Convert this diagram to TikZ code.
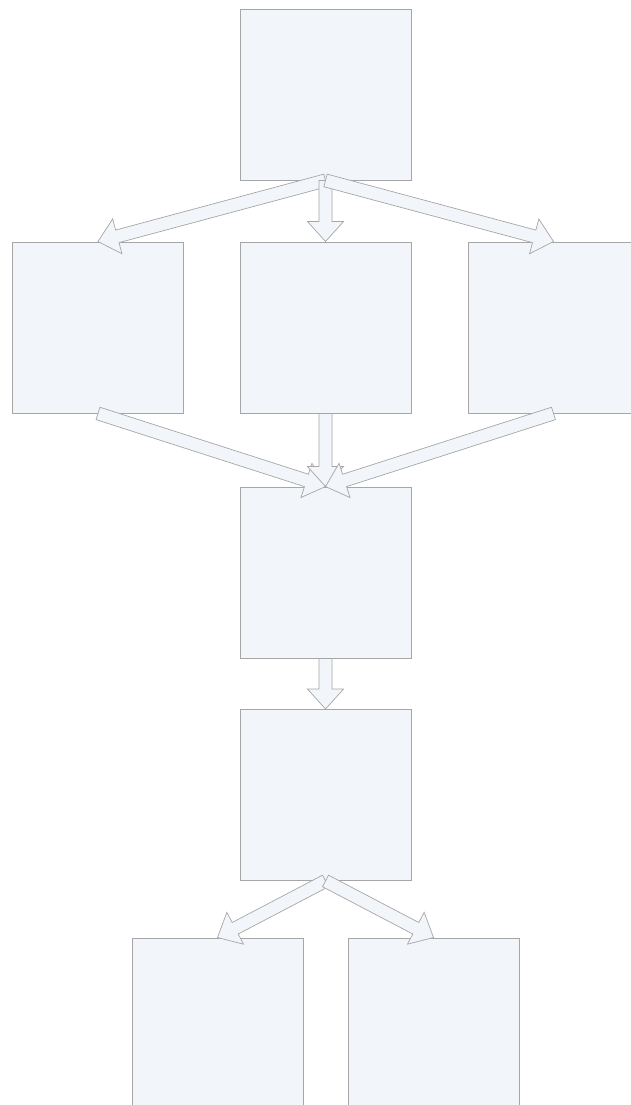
\documentclass[tikz,border=0pt]{standalone}
\usetikzlibrary{calc}
\definecolor{boxfill}{HTML}{F2F5FA}
\definecolor{boxline}{HTML}{A6A6A6}
\tikzset{
  x=1pt, y=1pt,
  fcbox/.style   = {draw=boxline, fill=boxfill, line width=0.9pt, inner sep=0pt,
                    minimum width=171pt, minimum height=171pt},
  fcarrow/.style = {draw=boxline, fill=boxfill, line width=0.7pt, line join=miter},
}
% block arrow from #1 to #2
\newcommand{\fcblock}[2]{%
  \path (#1) coordinate (fc-s) (#2) coordinate (fc-e) ($(fc-e)!20pt!(fc-s)$) coordinate (fc-h);
  \draw[fcarrow] ($(fc-s)!6.5pt!90:(fc-e)$) -- ($(fc-h)!6.5pt!90:(fc-e)$)
    -- ($(fc-h)!18pt!90:(fc-e)$) -- (fc-e) -- ($(fc-h)!18pt!-90:(fc-e)$)
    -- ($(fc-h)!6.5pt!-90:(fc-e)$) -- ($(fc-s)!6.5pt!-90:(fc-e)$) -- cycle;
}
\begin{document}
\begin{tikzpicture}
\useasboundingbox (0,0) rectangle (631,1105);

\foreach \i/\x/\y in {1/325.5/1010.5, 2/98/777.5, 3/325.5/777.5, 4/553.5/777.5,
                      5/325.5/532.5, 6/325.5/310, 7/217.5/81.5, 8/433.5/81.5}{
  \node[fcbox] (B\i) at (\x,\y) {};
}

\foreach \a/\b in {B1.south/B2.north, B1.south/B3.north, B1.south/B4.north,
                   B2.south/B5.north, B3.south/B5.north, B4.south/B5.north,
                   B5.south/B6.north, B6.south/B7.north, B6.south/B8.north}{
  \fcblock{\a}{\b}
}
\end{tikzpicture}
\end{document}
